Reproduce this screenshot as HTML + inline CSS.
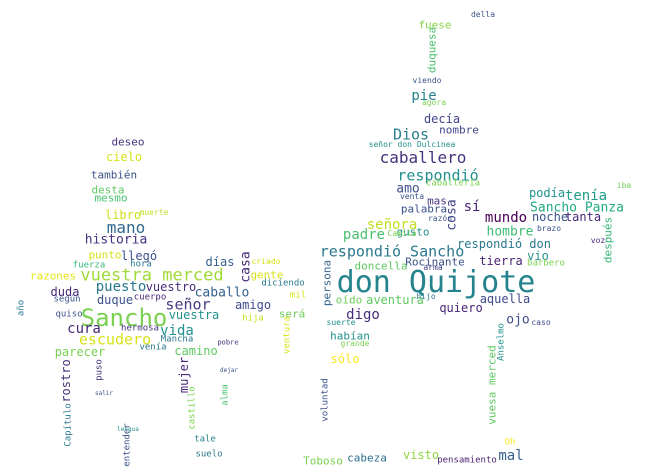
<!DOCTYPE html>
<html><head><meta charset="utf-8"><style>
html,body{margin:0;padding:0;background:#fff}
#cloud{position:relative;width:666px;height:472px;overflow:hidden;background:#fff;font-family:"DejaVu Sans Mono","Liberation Mono",monospace}
.w{position:absolute;white-space:nowrap;line-height:1;transform:translate(-50%,-50%)}
.v{transform:translate(-50%,-50%) rotate(-90deg)}
</style></head><body>
<div id="cloud"></div>
<script>
// word, center x, center y, font size, color, rotated
const words = ["don Quijote","Sancho","vuestra merced","caballero","mano","puesto","señor","cura","vida","escudero","digo","ojo","mal","visto","cabeza","Dios","respondió Sancho","respondió","amo","pie","tenía","Sancho Panza","mundo","hombre","señora","padre","cosa","sí","mas","palabra","nombre","decía","tierra","Rocinante","aquella","quiero","aventura","oído","persona","doncella","deseo","cielo","también","desta","mesmo","libro","muerte","historia","punto","llegó","días","casa","fuerza","hora","razones","gente","criado","duda","vuestro","caballo","diciendo","duque","cuerpo","amigo","mil","según","vuestra","será","quiso","hija","hermosa","Mancha","camino","parecer","venía","mujer","rostro","puso","Capítulo","castillo","alma","ventura","voluntad","entender","tale","suelo","Toboso","año","pensamiento","Oh","vuesa merced","Anselmo","habían","grande","sólo","suerte","caso","vio","barbero","brazo","respondió don","gusto","Camila","noche","tanta","podía","iba","después","voz","caballería","venta","razón","señor don Dulcinea","viendo","agora","duquesa","fuese","della","arma","hijo","pobre","dejar","salir","lengua"];
const cx = [436,124,152,423,126,121,188,84,177,115,363,518,511,421,367,411,392,438,408,424,586,577,506,510,392,364,452,472,437,424,459,442,501,435,505,461,395,349,327,381,128,124,114,108,111,123,154,116,105,139,220,246,89,141,53,267,266,65,171,222,283,115,150,253,298,67,194,292,69,253,140,177,196,80,153,184,66,100,69,193,226,288,326,128,205,209,323,22,467,510,492,502,350,355,345,341,541,538,546,549,504,413,402,550,583,547,624,608,598,453,412,440,412,427,434,432,435,483,433,426,228,229,104,128];
const cy = [283,318,276,158,228,287,305,329,331,340,315,320,456,455,458,135,252,176,189,96,196,208,218,232,225,235,215,207,201,209,130,119,261,262,299,308,300,300,283,266,142,157,175,190,198,215,213,240,255,256,262,267,266,265,276,275,262,292,287,293,284,300,298,305,296,300,315,314,315,319,329,340,351,352,348,375,381,370,425,408,395,335,400,445,440,455,461,308,461,443,385,342,336,344,359,323,323,256,264,229,244,232,234,217,217,193,186,240,241,184,197,219,145,81,103,50,25,15,268,297,343,371,394,430];
const sizes = [30,24,17,16,16,14,15,14,14,15,14,13,14,12,11,15,15,15,13,14,14,13,14,13,14,14,13,14,11,11,11,12,12,11,12,12,12,11,11,11,11,12,11,11,11,12,8,13,11,12,12,13,9,9,11,11,8,12,12,13,9,12,9,12,9,9,12,11,9,9,9,9,12,12,9,12,12,9,9,9,9,9,9,9,9,9,11,9,9,9,11,9,11,8,12,8,8,12,9,8,12,11,8,12,12,12,8,11,8,9,8,8,8,8,8,11,11,8,8,8,7,6,6,6];
const colors = ["#25838e","#7ad151","#a0da39","#46327e","#31688e","#2a788e","#443a83","#482878","#21918c","#d8e219","#472d7b","#3e4a89","#355f8d","#8fd744","#2e6f8e","#277f8e","#2a788e","#21908d","#3b528b","#26828e","#1f9e89","#22a884","#440154","#3dbc74","#c2df23","#4ac16d","#414487","#482475","#46327e","#3b528b","#404688","#414487","#481f70","#3b528b","#3e4a89","#482878","#5ec962","#6ece58","#33638d","#5ec962","#46327e","#d8e219","#3b528b","#5ec962","#4ac16d","#d0e11c","#bddf26","#46327e","#d8e219","#3b528b","#355f8d","#482878","#35b779","#2a788e","#e5e419","#d8e219","#d8e219","#482878","#472d7b","#33638d","#2a788e","#3b528b","#482878","#3e4a89","#d8e219","#3b528b","#21918c","#6ece58","#3b528b","#c8e020","#46327e","#2a788e","#5ec962","#7ad151","#2a788e","#482878","#46327e","#46327e","#2a788e","#7ad151","#4ac16d","#d8e219","#3b528b","#3b528b","#26828e","#2a788e","#7ad151","#2a788e","#481f70","#fde725","#5ec962","#21918c","#21918c","#7ad151","#fde725","#21918c","#3e4a89","#21918c","#7ad151","#3b528b","#2a788e","#21918c","#7ad151","#3b528b","#482878","#21918c","#6ece58","#35b779","#482878","#7ad151","#3b528b","#3b528b","#21918c","#3b528b","#7ad151","#4ac16d","#86d549","#3b528b","#414487","#2a788e","#46327e","#3b528b","#3b528b","#21918c"];
const rotated = ["don Quijote","cosa","persona","casa","mujer","rostro","puso","Capítulo","castillo","alma","ventura","voluntad","entender","año","vuesa merced","Anselmo","después","duquesa"];
const cloud = document.getElementById('cloud');
words.forEach((w, i) => {
  const el = document.createElement('div');
  
  
  el.className = 'w' + (rotated.includes(w) && w !== 'don Quijote' ? ' v' : '');
  el.textContent = w;
  el.style.left = cx[i] + 'px';
  el.style.top = cy[i] + 'px';
  el.style.fontSize = sizes[i] + 'px';
  el.style.color = colors[i];
  cloud.appendChild(el);
});
</script>
</body></html>
